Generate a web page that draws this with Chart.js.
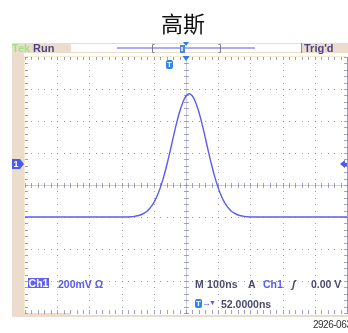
<!DOCTYPE html>
<html>
<head>
<meta charset="utf-8">
<script src="https://cdn.jsdelivr.net/npm/chart.js@4.4.1/dist/chart.umd.min.js"></script>
<style>
  html, body { margin: 0; padding: 0; background: #fff; }
  #wrap { position: relative; width: 348px; height: 333px; overflow: hidden; }
  canvas { position: absolute; left: 0; top: 0; }
  .t { position: absolute; white-space: nowrap; font-family: "Liberation Sans", Arial, sans-serif;
       font-weight: bold; font-size: 10.5px; line-height: 12px; }
  #title { position: absolute; left: 161px; top: 10px; font: 22px/24px "Noto Sans CJK SC", sans-serif; color: #111; white-space: nowrap; }
  .ink { color: #4a4a6e; }
  .blue { color: #5a5ae8; }
  .bar { color: #4b4585; font-size: 11px; }
  #ch1box { left: 28px; top: 278px; width: 21px; height: 10px; line-height: 10px; background: #5f5ff0; color: #fff; text-align: center; }
  .icon { position: absolute; color: #fff; text-align: center; font-family: "Liberation Sans", Arial, sans-serif; font-weight: bold; border-radius: 2px; }
  #fig { left: 313px; top: 320px; font: 10px/10px "Liberation Sans Narrow", "Liberation Sans", Arial, sans-serif; color: #333; letter-spacing: -0.5px; }
</style>
</head>
<body>
<div id="wrap">
  <canvas id="scope" width="348" height="333"></canvas>
  <div id="title">高斯</div>
  <div class="t bar" style="left:12px;top:42px;color:#9fe57f">Tek</div>
  <div class="t bar" style="left:33px;top:42px">Run</div>
  <div class="t bar" style="left:304px;top:42px">Trig'd</div>

  <div class="icon" id="gndMark" style="font-size:9px;line-height:10px;width:8px;height:10px">1</div>
  <div class="icon" id="trigMark" style="font-size:8px;line-height:9px;width:7px;height:9px;background:#2f86e6">T</div>

  <div class="t" id="ch1box">Ch1</div>
  <div class="t blue" style="left:58px;top:278px">200mV Ω</div>
  <div class="t ink" style="left:195px;top:278px;letter-spacing:0.2px">M 100ns</div>
  <div class="t ink" style="left:248px;top:278px">A</div>
  <div class="t blue" style="left:263px;top:278px">Ch1</div>
  <div class="t ink" style="left:292px;top:278px;font-style:italic">ʃ</div>
  <div class="t ink" style="left:311px;top:278px">0.00 V</div>
  <div class="icon" style="left:195px;top:299px;width:7px;height:9px;font-size:8px;line-height:9px;background:#2f86e6">T</div>
  <div class="t blue" style="left:202px;top:297px;font-size:9px">→</div>
  <div class="t blue" style="left:209px;top:297px;font-size:7px">▼</div>
  <div class="t ink" style="left:221px;top:298px">52.0000ns</div>
  <div id="fig" class="t">2926-063</div>
</div>
<script>
const timeNs = [-500, -190, -180, -170, -160, -150, -140, -130, -120, -110, -100,
  -90, -80, -70, -60, -50, -40, -30, -20, -10, 0, 10, 20, 30, 40, 50, 60, 70, 80,
  90, 100, 110, 120, 130, 140, 150, 160, 170, 180, 190, 200, 210, 500];
const ch1Div = [-1.00, -1.00, -1.00, -0.99, -0.98, -0.96, -0.93, -0.88, -0.81, -0.70, -0.55,
  -0.35, -0.09, 0.23, 0.61, 1.03, 1.47, 1.90, 2.28, 2.58, 2.78, 2.85, 2.78, 2.58, 2.28, 1.90, 1.47, 1.03, 0.61,
  0.23, -0.09, -0.35, -0.55, -0.70, -0.81, -0.88, -0.93, -0.96, -0.98, -0.99, -1.00, -1.00, -1.00];

// Graticule
const xGridNs = [-500, -400, -300, -200, -100, 0, 100, 200, 300, 400, 500];
const yGridDiv = [-4, -3, -2, -1, 0, 1, 2, 3, 4];
const ch1GroundDiv = 0.67;  // marqueur "1"
const trigPosNs = -52;      // T -> 52.0000ns

const TAN = '#ebdccd';
const GRID = 'rgba(135,135,160,0.85)';

const graticule = {
    id: 'graticule',
    beforeDraw(chart) {
        const { ctx } = chart;
        ctx.save();
        // bandeau d'état
        ctx.fillStyle = TAN;
        ctx.fillRect(12, 43, 58, 10);
        ctx.fillRect(301, 43, 47, 10);
        ctx.fillRect(12, 53, 12, 264);
        ctx.fillRect(12, 313, 58, 4);
        ctx.fillRect(70, 315, 278, 2);
        ctx.strokeStyle = TAN;
        ctx.lineWidth = 1;
        ctx.strokeRect(70.5, 43.5, 231, 9);
        ctx.fillStyle = '#8a84a8';
        ctx.fillRect(301, 43, 1, 10);
        // barre d'enregistrement
        ctx.fillStyle = '#a9aef2';
        ctx.fillRect(117, 47, 138, 2);
        ctx.strokeStyle = '#7c7c98';
        ctx.beginPath();
        ctx.moveTo(154.5, 44.5); ctx.lineTo(152.5, 44.5); ctx.lineTo(152.5, 52.5); ctx.lineTo(154.5, 52.5);
        ctx.moveTo(218.5, 44.5); ctx.lineTo(220.5, 44.5); ctx.lineTo(220.5, 52.5); ctx.lineTo(218.5, 52.5);
        ctx.stroke();
        ctx.fillStyle = '#4f86e6';
        ctx.fillRect(180, 45, 5, 8);
        ctx.fillStyle = '#cfe0fa';
        ctx.fillRect(181, 47, 2, 4);
        ctx.fillStyle = '#2f7ee0';
        ctx.beginPath();
        ctx.moveTo(183, 42); ctx.lineTo(189, 42); ctx.lineTo(186, 46); ctx.closePath();
        ctx.fill();
        ctx.restore();
    },
    beforeDatasetsDraw(chart) {
        const { ctx, chartArea: a, scales: { x, y } } = chart;
        ctx.save();
        // bords
        ctx.fillStyle = '#f2edcc';
        ctx.fillRect(a.left - 1, a.top - 1, a.right - a.left + 1, 1);
        ctx.fillRect(a.left - 1, a.top - 1, 1, a.bottom - a.top + 1);
        ctx.fillStyle = '#9a9aa8';
        ctx.fillRect(a.right, a.top, 1, a.bottom - a.top);

        // lignes pointillées
        ctx.fillStyle = GRID;
        for (const t of xGridNs) {
            const px = Math.round(x.getPixelForValue(t));
            for (let v = -4; v <= 4.001; v += 0.2) {
                ctx.fillRect(px, Math.round(y.getPixelForValue(v)), 1, 1);
            }
        }
        for (const d of yGridDiv) {
            const py = Math.round(y.getPixelForValue(d));
            for (let t = -500; t <= 500.1; t += 20) {
                ctx.fillRect(Math.round(x.getPixelForValue(t)), py, 1, 1);
            }
        }

        // axes centraux avec graduations
        const cx = Math.round(x.getPixelForValue(0));
        const cy = Math.round(y.getPixelForValue(0));
        ctx.fillStyle = 'rgba(165,165,200,0.55)';
        ctx.fillRect(a.left, cy, a.right - a.left, 1);
        ctx.fillRect(cx, a.top, 1, a.bottom - a.top);
        ctx.fillStyle = 'rgba(140,140,185,0.8)';
        for (let t = -500; t <= 500.1; t += 20) {
            const px = Math.round(x.getPixelForValue(t));
            ctx.fillRect(px, cy - 2, 1, 5);
            ctx.fillRect(px, a.top, 1, 3);
            ctx.fillRect(px, a.bottom - 3, 1, 3);
        }
        for (let v = -4; v <= 4.001; v += 0.2) {
            const py = Math.round(y.getPixelForValue(v));
            ctx.fillRect(cx - 2, py, 5, 1);
            ctx.fillRect(a.left, py, 3, 1);
            ctx.fillRect(a.right - 3, py, 3, 1);
        }
        ctx.restore();
    },
    afterDraw(chart) {
        const { ctx, chartArea: a, scales: { x, y } } = chart;
        ctx.save();
        // marqueur de masse Ch1
        const gy = Math.round(y.getPixelForValue(ch1GroundDiv));
        ctx.fillStyle = '#4a5af0';
        ctx.beginPath();
        ctx.moveTo(12, gy - 5); ctx.lineTo(20, gy - 5); ctx.lineTo(24, gy);
        ctx.lineTo(20, gy + 5); ctx.lineTo(12, gy + 5); ctx.closePath();
        ctx.fill();
        // niveau de déclenchement (0.00 V)
        ctx.beginPath();
        ctx.moveTo(340, gy); ctx.lineTo(345, gy - 4); ctx.lineTo(345, gy + 4); ctx.closePath();
        ctx.fill();
        ctx.fillRect(345, gy - 1, 2, 3);
        // position horizontale (centre)
        const cx = x.getPixelForValue(0);
        ctx.fillStyle = '#2f7ee0';
        ctx.beginPath();
        ctx.moveTo(cx - 3.5, a.top - 1); ctx.lineTo(cx + 3.5, a.top - 1); ctx.lineTo(cx, a.top + 4);
        ctx.closePath();
        ctx.fill();
        ctx.restore();
    }
};

const chart = new Chart(document.getElementById('scope').getContext('2d'), {
    type: 'line',
    data: {
        datasets: [{
            data: timeNs.map((t, i) => ({ x: t, y: ch1Div[i] })),
            borderColor: '#5c5cf0',
            borderWidth: 1.4,
            pointRadius: 0,
            cubicInterpolationMode: 'monotone',
            fill: false
        }]
    },
    options: {
        responsive: false,
        animation: false,
        layout: { padding: { left: 25, right: 1, top: 57, bottom: 20 } },
        plugins: { legend: { display: false }, tooltip: { enabled: false } },
        scales: {
            x: { type: 'linear', min: -500, max: 500, display: false },
            y: { type: 'linear', min: -4, max: 4, display: false }
        }
    },
    plugins: [graticule]
});

// placer les étiquettes des marqueurs sur les échelles
const gnd = document.getElementById('gndMark');
gnd.style.left = '12px';
gnd.style.top = (Math.round(chart.scales.y.getPixelForValue(ch1GroundDiv)) - 5) + 'px';
const trg = document.getElementById('trigMark');
trg.style.left = (Math.round(chart.scales.x.getPixelForValue(trigPosNs)) - 3) + 'px';
trg.style.top = '60px';
</script>
</body>
</html>
